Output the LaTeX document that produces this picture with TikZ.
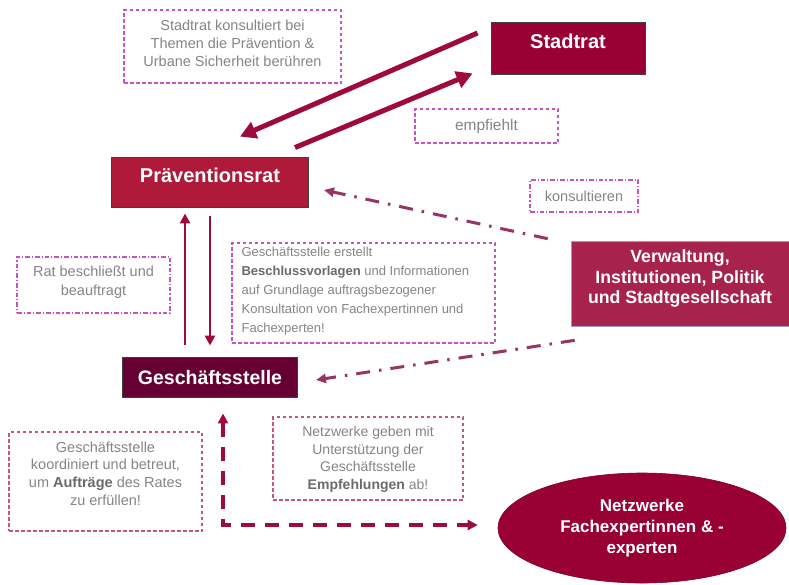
\documentclass[tikz,border=0pt]{standalone}
\usepackage{fontspec}
\setmainfont{Liberation Sans}
\usetikzlibrary{arrows.meta,shapes.geometric,calc}
\definecolor{stadtred}{HTML}{990033}
\definecolor{praevred}{HTML}{AF1A3A}
\definecolor{gsred}{HTML}{660033}
\definecolor{verwred}{HTML}{A8234C}
\definecolor{arrred}{HTML}{9E0A3A}
\definecolor{dotred}{HTML}{993366}
\definecolor{boxpurple}{HTML}{C653C0}
\definecolor{boxpink}{HTML}{C8557F}
\definecolor{txtgray}{HTML}{858585}
\definecolor{boldgray}{HTML}{6A6A6A}
\definecolor{verwborder}{HTML}{9A9AD0}
\begin{document}
\begin{tikzpicture}[x=1pt,y=-1pt,
  mainbox/.style={rectangle, draw=black!75, line width=0.9pt, text=white, inner sep=0pt},
  bigtext/.style={font=\bfseries\fontsize{20}{24}\selectfont},
  note/.style={text=txtgray, inner sep=0pt, align=center, font=\fontsize{14.5}{18}\selectfont},
  dashbox/.style={rectangle, draw=boxpurple, line width=1.2pt, dash pattern=on 3.5pt off 2.5pt, inner sep=0pt},
  dotbox/.style={rectangle, draw=boxpurple, line width=1.2pt, dash pattern=on 4.5pt off 2pt on 1.2pt off 2pt, inner sep=0pt},
  pinkbox/.style={dashbox, draw=boxpink},
  thickarr/.style={draw=arrred, line width=5pt, -{Triangle[length=16pt,width=17pt]}},
  vertarr/.style={draw=arrred, line width=2.8pt, -{Triangle[length=10pt,width=10pt]}},
  dotarr/.style={draw=dotred, line width=3pt, dash pattern=on 14pt off 9pt on 2.5pt off 9pt, -{Triangle[length=10pt,width=9pt]}},
  lshape/.style={draw=arrred, line width=3.2pt, dash pattern=on 14pt off 10pt, {Triangle[length=10pt,width=10pt]}-{Triangle[length=10pt,width=10pt]}},
]
\path[use as bounding box, fill=white] (0,0) rectangle (789,584);

% main nodes
\node[mainbox, fill=stadtred, minimum width=154pt, minimum height=52pt, bigtext, text height=14.3pt, text depth=13pt] (st) at (568,48) {Stadtrat};
\node[mainbox, fill=praevred, minimum width=197pt, minimum height=50pt, bigtext, text height=14.3pt, text depth=14pt] (prae) at (210,182) {Präventionsrat};
\node[mainbox, fill=gsred, minimum width=175pt, minimum height=40pt, font=\bfseries\fontsize{19.5}{24}\selectfont, text height=14pt, text depth=0pt] (gs) at (210,377) {Geschäftsstelle};
\node[rectangle, draw=verwborder, line width=0.6pt, fill=verwred, minimum width=218pt, minimum height=85pt, inner sep=0pt] (verw) at (680,283.5) {};
\node[text=white, inner sep=0pt, align=center, font=\bfseries\fontsize{17.7}{20.5}\selectfont] (verwt) at ($(verw.center)+(0,-5)$) {Verwaltung,\\Institutionen, Politik\\und Stadtgesellschaft};
\node[ellipse, fill=stadtred, draw=stadtred!85!black, line width=0.6pt, minimum width=288pt, minimum height=110pt, inner sep=0pt, text=white, align=center, font=\bfseries\fontsize{17}{21}\selectfont] (net) at (642,528) {Netzwerke\\Fachexpertinnen \& -\\experten};

% note boxes
\node[dashbox, minimum width=217pt, minimum height=73pt] (b1) at (232.5,46.5) {};
\node[note, font=\fontsize{14.5}{18}\selectfont] (t1) at ($(b1.center)+(0,-3)$) {Stadtrat konsultiert bei\\Themen die Prävention \&\\Urbane Sicherheit berühren};

\node[dashbox, minimum width=143pt, minimum height=34pt, note, font=\fontsize{15.5}{18}\selectfont] (b2) at (486.5,126) {empfiehlt};

\node[dotbox, minimum width=108pt, minimum height=32pt, note, font=\fontsize{14.5}{18}\selectfont] (b3) at (584,196) {konsultieren};

\node[dotbox, minimum width=153pt, minimum height=56pt] (b4) at (93.5,285) {};
\node[note, font=\fontsize{14.5}{19}\selectfont] (t4) at ($(b4.center)+(0,-3)$) {Rat beschließt und\\beauftragt};

\node[dashbox, minimum width=263pt, minimum height=100pt] (b5) at (363.5,293) {};
\node[note, align=left, anchor=west, font=\fontsize{13}{19}\selectfont] (t5) at ($(b5.west)+(10,-2)$) {Geschäftsstelle erstellt\\\textcolor{boldgray}{\bfseries Beschlussvorlagen} und Informationen\\auf Grundlage auftragsbezogener\\Konsultation von Fachexpertinnen und\\Fachexperten!};

\node[pinkbox, minimum width=193pt, minimum height=99pt] (b6) at (105.5,481.5) {};
\node[note, font=\fontsize{14.5}{17.7}\selectfont] (t6) at ($(b6.center)+(0,-8)$) {Geschäftsstelle\\koordiniert und betreut,\\um \textcolor{boldgray}{\bfseries Aufträge} des Rates\\zu erfüllen!};

\node[pinkbox, minimum width=190pt, minimum height=83pt] (b7) at (368,458.5) {};
\node[note, font=\fontsize{14}{17.7}\selectfont] (t7) at ($(b7.center)+(0,1)$) {Netzwerke geben mit\\Unterstützung der\\Geschäftsstelle\\\textcolor{boldgray}{\bfseries Empfehlungen} ab!};

% connectors
\draw[thickarr] ($(st.west)+(-13,-15)$) -- ($(prae.north)+(30,-20)$);
\draw[thickarr] ($(prae.north)+(85,-9)$) -- ($(st.south west)+(-18,-1)$);
\draw[vertarr] ($(gs.north)+(-25,-12)$) -- ($(prae.south)+(-25,6)$);
\draw[vertarr] ($(prae.south)+(0,9)$) -- ($(gs.north)+(0,-11)$);
\draw[dotarr] ($(verw.north west)+(-23,-2)$) -- ($(prae.east)+(15,8)$);
\draw[dotarr] ($(verw.south west)+(4,14)$) -- ($(gs.east)+(18,3)$);
\draw[lshape] ($(gs.south)+(13,16)$) |- ($(net.west)+(-20,-3)$);
\end{tikzpicture}
\end{document}
